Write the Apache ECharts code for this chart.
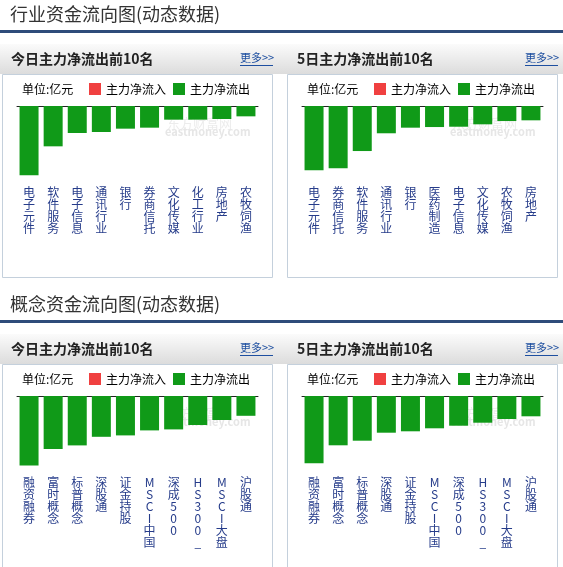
<!DOCTYPE html>
<html><head><meta charset="utf-8">
<script src="https://cdn.jsdelivr.net/npm/echarts@6/dist/echarts.min.js"></script>
<style>html,body{margin:0;padding:0;background:#fff;}#c{width:563px;height:567px;}</style>
</head><body><div id="c"></div>
<script>
const sectionTitles = ['行业资金流向图(动态数据)', '概念资金流向图(动态数据)'];
const panelTitles = ['今日主力净流出前10名', '5日主力净流出前10名'];
const moreText = '更多>>';
const unitText = '单位:亿元';
const seriesNames = ['主力净流入', '主力净流出'];
const watermarkCn = '东方财富网';
const watermarkEn = 'eastmoney.com';

const industryTodayCats = ['电子元件','软件服务','电子信息','通讯行业','银行','券商信托','文化传媒','化工行业','房地产','农牧饲渔'];
const industryTodayVals = [-20.8,-12.1,-8.1,-7.8,-6.8,-6.5,-4.1,-4.1,-3.9,-3.1];
const industryFiveCats = ['电子元件','券商信托','软件服务','通讯行业','银行','医药制造','电子信息','文化传媒','农牧饲渔','房地产'];
const industryFiveVals = [-80.4,-77.9,-56.3,-34.1,-27.1,-26.3,-25.9,-22.9,-18.8,-17.9];
const conceptTodayCats = ['融资融券','富时概念','标普概念','深股通','证金持股','MSCI中国','深成500','HS300_','MSCI大盘','沪股通'];
const conceptTodayVals = [-34.7,-26.5,-24.7,-20.4,-19.7,-17.2,-16.7,-14.5,-12.0,-9.9];
const conceptFiveCats = ['融资融券','富时概念','标普概念','深股通','证金持股','MSCI中国','深成500','HS300_','MSCI大盘','沪股通'];
const conceptFiveVals = [-134.6,-98.6,-89.4,-73.4,-70.6,-64.6,-59.4,-53.4,-46.0,-40.6];
const axisMins = [-24, -100, -40, -160];

const FONT = '"Noto Sans CJK SC", "Microsoft YaHei", sans-serif';
const GREEN = '#109a18';
const RED = '#f04040';

const panels = [
  {px: 2, sy: 0, cats: industryTodayCats, vals: industryTodayVals, min: axisMins[0], title: panelTitles[0]},
  {px: 287, sy: 0, cats: industryFiveCats, vals: industryFiveVals, min: axisMins[1], title: panelTitles[1]},
  {px: 2, sy: 290, cats: conceptTodayCats, vals: conceptTodayVals, min: axisMins[2], title: panelTitles[0]},
  {px: 287, sy: 290, cats: conceptFiveCats, vals: conceptFiveVals, min: axisMins[3], title: panelTitles[1]}
];

const grid = [], xAxis = [], yAxis = [], series = [], legend = [], graphic = [];

// section chrome
[0, 290].forEach((sy, i) => {
  graphic.push({type: 'text', x: 10, y: 14 + sy, z: 1,
    style: {text: sectionTitles[i], font: '18px ' + FONT, fill: '#333', verticalAlign: 'middle'}});
  graphic.push({type: 'rect', shape: {x: 0, y: 30 + sy, width: 563, height: 3}, z: 1,
    style: {fill: '#2f4c7a'}});
  graphic.push({type: 'rect', shape: {x: 0, y: 44 + sy, width: 563, height: 30}, z: 0,
    style: {fill: new echarts.graphic.LinearGradient(0, 0, 0, 1, [
      {offset: 0, color: '#fbfbfb'}, {offset: 1, color: '#dcdcdc'}])}});
});

panels.forEach((p, i) => {
  const gl = p.px + 15;
  const gt = 106 + p.sy;
  grid.push({left: gl, top: gt, width: 241, height: 80});
  xAxis.push({type: 'category', gridIndex: i, position: 'bottom', data: p.cats,
    axisLine: {show: false}, axisTick: {show: false},
    axisLabel: {interval: 0, margin: 0, color: '#263c8a', fontSize: 12, lineHeight: 12,
      fontFamily: FONT, verticalAlign: 'top',
      formatter: v => v.split('').join('\n')}});
  xAxis.push({type: 'category', gridIndex: i, position: 'top', data: p.cats,
    axisLine: {show: true, lineStyle: {color: '#222', width: 1}},
    axisTick: {show: false}, axisLabel: {show: false}});
  yAxis.push({type: 'value', gridIndex: i, min: p.min, max: 0, show: false, splitLine: {show: false}});
  series.push({name: seriesNames[1], type: 'bar', xAxisIndex: 2 * i, yAxisIndex: i,
    data: p.vals, barWidth: 19, barGap: '-100%', itemStyle: {color: GREEN}, silent: true, z: 2});
  series.push({name: seriesNames[0], type: 'bar', xAxisIndex: 2 * i, yAxisIndex: i,
    data: [], barWidth: 19, barGap: '-100%', itemStyle: {color: RED}, silent: true, z: 2});
  legend.push({data: [seriesNames[0], seriesNames[1]], left: p.px + 87, top: 83 + p.sy,
    padding: 0, itemWidth: 12, itemHeight: 12, itemGap: 7, icon: 'rect',
    textStyle: {fontSize: 12, color: '#000', fontFamily: FONT}, selectedMode: false});

  // panel box
  const boxH = p.sy === 0 ? 203 : 260;
  graphic.push({type: 'rect', shape: {x: p.px + 0.5, y: 74.5 + p.sy, width: 270, height: boxH}, z: 0,
    style: {fill: '#fff', stroke: '#c4d0dc', lineWidth: 1}});
  // header
  const hx = p.px === 2 ? 11 : 297;
  graphic.push({type: 'text', x: hx, y: 59 + p.sy, z: 1,
    style: {text: p.title, font: 'bold 14px ' + FONT, fill: '#222', verticalAlign: 'middle'}});
  const mx = p.px === 2 ? 240 : 525;
  graphic.push({type: 'text', x: mx, y: 58 + p.sy, z: 1,
    style: {text: moreText, font: '11px ' + FONT, fill: '#1e4fa0', verticalAlign: 'middle'}});
  graphic.push({type: 'line', shape: {x1: mx, y1: 65.5 + p.sy, x2: mx + 33, y2: 65.5 + p.sy}, z: 1,
    style: {stroke: '#1e4fa0', lineWidth: 1}});
  // unit
  graphic.push({type: 'text', x: p.px + 20, y: 89 + p.sy, z: 1,
    style: {text: unitText, font: '12px ' + FONT, fill: '#000', verticalAlign: 'middle'}});
  // watermark
  graphic.push({type: 'text', x: gl + 150, y: 123 + p.sy, z: 1,
    style: {text: watermarkCn, font: '13px ' + FONT, fill: '#ececec', verticalAlign: 'middle'}});
  graphic.push({type: 'text', x: gl + 148, y: 132 + p.sy, z: 1,
    style: {text: watermarkEn, font: 'bold 11px ' + FONT, fill: '#e6e6e6', verticalAlign: 'middle'}});
});

const chart = echarts.init(document.getElementById('c'), null, {renderer: 'canvas'});
chart.setOption({
  animation: false,
  backgroundColor: '#fff',
  grid, xAxis, yAxis, series, legend, graphic
});
</script></body></html>
